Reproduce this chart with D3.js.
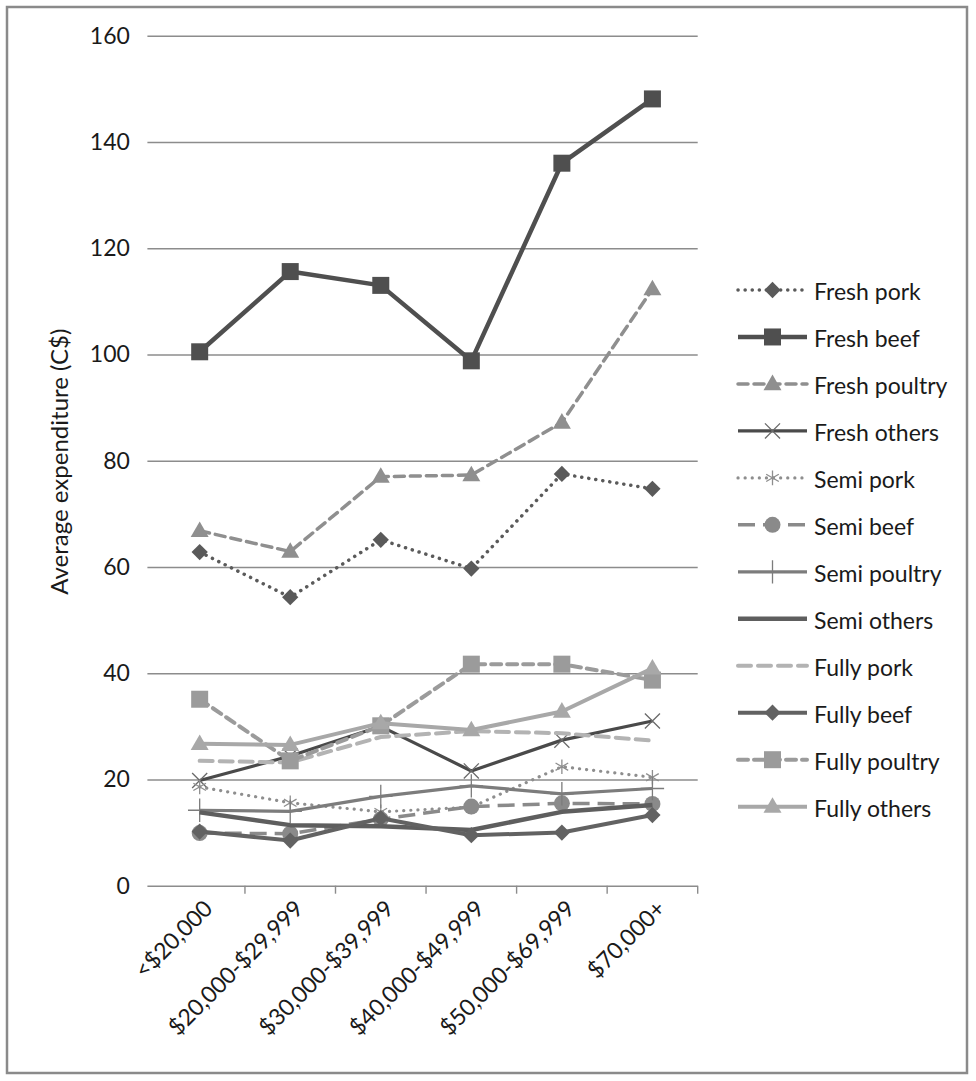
<!DOCTYPE html>
<html>
<head>
<meta charset="utf-8">
<script src="https://cdn.jsdelivr.net/npm/d3@7"></script>
<style>
  html, body { margin: 0; padding: 0; background: #fff; }
  svg text { font-family: Lato, "Open Sans", sans-serif; fill: #1a1a1a; }
</style>
</head>
<body>
<svg id="chart" width="976" height="1081"></svg>
<script>
// Income brackets on the category axis
const categories = ["<$20,000", "$20,000-$29,999", "$30,000-$39,999", "$40,000-$49,999", "$50,000-$69,999", "$70,000+"];
const yTicks = [0, 20, 40, 60, 80, 100, 120, 140, 160];

// Average expenditure (C$) per bracket
const freshPork    = [62.8, 54.3, 65.1, 59.7, 77.5, 74.7];
const freshBeef    = [100.5, 115.6, 113.0, 98.8, 136.0, 148.1];
const freshPoultry = [66.8, 62.9, 77.0, 77.3, 87.2, 112.3];
const freshOthers  = [19.8, 24.4, 30.0, 21.6, 27.4, 31.0];
const semiPork     = [18.6, 15.6, 13.9, 14.8, 22.4, 20.4];
const semiBeef     = [9.9, 9.8, 12.5, 14.9, 15.5, 15.4];
const semiPoultry  = [14.2, 14.0, 16.8, 18.8, 17.3, 18.3];
const semiOthers   = [13.8, 11.4, 11.2, 10.5, 13.9, 15.2];
const fullyPork    = [23.5, 23.2, 28.0, 29.1, 28.7, 27.3];
const fullyBeef    = [10.2, 8.5, 12.7, 9.5, 10.0, 13.3];
const fullyPoultry = [35.1, 23.5, 30.1, 41.7, 41.7, 38.7];
const fullyOthers  = [26.7, 26.5, 30.6, 29.3, 32.8, 40.9];

const seriesNames = ["Fresh pork", "Fresh beef", "Fresh poultry", "Fresh others",
                     "Semi pork", "Semi beef", "Semi poultry", "Semi others",
                     "Fully pork", "Fully beef", "Fully poultry", "Fully others"];
const seriesValues = [freshPork, freshBeef, freshPoultry, freshOthers,
                      semiPork, semiBeef, semiPoultry, semiOthers,
                      fullyPork, fullyBeef, fullyPoultry, fullyOthers];

// Line and marker styling per series
const DOT = "0.1 7", DASH = "10 6", LDASH = "13 7", LONG = "17 8";
const styles = {
  "Fresh pork":    { color: "#5a5a5a", width: 3.5, dash: DOT,  cap: "round", marker: "diamond",  mcolor: "#5a5a5a" },
  "Fresh beef":    { color: "#4f4f4f", width: 4.5, dash: null, cap: "butt",  marker: "square",   mcolor: "#4f4f4f" },
  "Fresh poultry": { color: "#8f8f8f", width: 3.5, dash: DASH, cap: "round", marker: "triangle", mcolor: "#8f8f8f" },
  "Fresh others":  { color: "#4a4a4a", width: 3.2, dash: null, cap: "butt",  marker: "times",    mcolor: "#6a6a6a" },
  "Semi pork":     { color: "#8e8e8e", width: 3.2, dash: DOT,  cap: "round", marker: "asterisk", mcolor: "#8e8e8e" },
  "Semi beef":     { color: "#8a8a8a", width: 3.5, dash: LONG, cap: "butt",  marker: "circle",   mcolor: "#8a8a8a" },
  "Semi poultry":  { color: "#7c7c7c", width: 3.2, dash: null, cap: "butt",  marker: "plus",     mcolor: "#7c7c7c" },
  "Semi others":   { color: "#5e5e5e", width: 4.5, dash: null, cap: "butt",  marker: null,       mcolor: null },
  "Fully pork":    { color: "#b3b3b3", width: 4,   dash: LDASH, cap: "round", marker: null,      mcolor: null },
  "Fully beef":    { color: "#626262", width: 4,   dash: null, cap: "butt",  marker: "diamond",  mcolor: "#626262" },
  "Fully poultry": { color: "#9b9b9b", width: 4,   dash: DASH, cap: "round", marker: "square",   mcolor: "#9b9b9b" },
  "Fully others":  { color: "#a8a8a8", width: 4,   dash: null, cap: "butt",  marker: "triangle", mcolor: "#a8a8a8" }
};

const svg = d3.select("#chart");
const W = 976, H = 1081;

// outer chart border
svg.append("rect").attr("x", 7).attr("y", 7).attr("width", W - 16).attr("height", H - 15)
  .attr("fill", "#fff").attr("stroke", "#8a8a8a").attr("stroke-width", 2.5);

const plot = { left: 154.4, right: 697.7, top: 35.7, bottom: 885.7 };
const FONT = 23;

const x = d3.scaleBand().domain(categories).range([plot.left, plot.right]).paddingInner(0).paddingOuter(0);
const cx = c => x(c) + x.bandwidth() / 2;
const y = d3.scaleLinear().domain([0, 160]).range([plot.bottom, plot.top]);

// horizontal gridlines + value axis labels
const yAxis = d3.axisLeft(y).tickValues(yTicks).tickSize(7).tickPadding(17.5).tickFormat(d3.format("d"));
const gy = svg.append("g").attr("transform", `translate(${plot.left},0)`).call(yAxis);
gy.select(".domain").remove();
gy.selectAll(".tick line").attr("stroke", "#8c8c8c").attr("stroke-width", 1.4)
  .attr("x2", plot.right - plot.left).attr("x1", -7);
gy.selectAll(".tick text").attr("font-size", FONT).attr("fill", "#1a1a1a")
  .style("font-family", "Lato, 'Open Sans', sans-serif");

// category axis tick marks at bracket boundaries
const gx = svg.append("g");
gx.selectAll("line.tk").data(categories).join("line").attr("class", "tk")
  .attr("x1", d => x(d) + x.bandwidth()).attr("x2", d => x(d) + x.bandwidth())
  .attr("y1", plot.bottom).attr("y2", plot.bottom + 8)
  .attr("stroke", "#8c8c8c").attr("stroke-width", 1.4);

// rotated bracket labels
gx.selectAll("text.cat").data(categories).join("text").attr("class", "cat")
  .attr("transform", d => `translate(${cx(d) + 8},${plot.bottom + 18}) rotate(-45)`)
  .attr("text-anchor", "end").attr("dominant-baseline", "central")
  .attr("font-size", FONT).text(d => d);

// value axis title
svg.append("text")
  .attr("transform", `translate(58,${(plot.top + plot.bottom) / 2 + 1}) rotate(-90)`)
  .attr("text-anchor", "middle").attr("dominant-baseline", "central")
  .attr("font-size", 24).text("Average expenditure (C$)");

// marker drawing
function drawMarker(g, kind, fill, px, py) {
  if (!kind) return;
  const stroke = fill;
  if (kind === "square") {
    g.append("path").attr("d", d3.symbol(d3.symbolSquare, 17 * 17)())
      .attr("transform", `translate(${px},${py})`).attr("fill", fill);
  } else if (kind === "diamond") {
    g.append("path").attr("d", d3.symbol(d3.symbolSquare, 11.5 * 11.5)())
      .attr("transform", `translate(${px},${py}) rotate(45)`).attr("fill", fill);
  } else if (kind === "triangle") {
    g.append("path").attr("d", d3.symbol(d3.symbolTriangle, 140)())
      .attr("transform", `translate(${px},${py + 1})`).attr("fill", fill);
  } else if (kind === "circle") {
    g.append("circle").attr("cx", px).attr("cy", py).attr("r", 8).attr("fill", fill);
  } else {
    const sym = kind === "times" ? d3.symbolTimes : kind === "plus" ? d3.symbolPlus : d3.symbolAsterisk;
    g.append("path").attr("d", d3.symbol(sym, kind === "plus" ? 180 : 150)())
      .attr("transform", `translate(${px},${py})`)
      .attr("fill", "none").attr("stroke", stroke).attr("stroke-width", 1.3);
  }
}

// series lines
const line = d3.line().x((d, i) => cx(categories[i])).y(d => y(d));
const gs = svg.append("g");
seriesNames.forEach((name, si) => {
  const st = styles[name];
  const g = gs.append("g");
  g.append("path").datum(seriesValues[si]).attr("d", line)
    .attr("fill", "none").attr("stroke", st.color).attr("stroke-width", st.width)
    .attr("stroke-dasharray", st.dash).attr("stroke-linecap", st.cap)
    .attr("stroke-linejoin", "round");
  seriesValues[si].forEach((v, i) => drawMarker(g, st.marker, st.mcolor, cx(categories[i]), y(v)));
});

// legend
const lg = svg.append("g");
seriesNames.forEach((name, i) => {
  const st = styles[name];
  const ly = 290 + 46.97 * i;
  const g = lg.append("g");
  g.append("line").attr("x1", 738).attr("x2", 807).attr("y1", ly).attr("y2", ly)
    .attr("stroke", st.color).attr("stroke-width", st.width)
    .attr("stroke-dasharray", st.dash).attr("stroke-linecap", st.cap);
  drawMarker(g, st.marker, st.mcolor, 772.5, ly);
  g.append("text").attr("x", 814).attr("y", ly + 1).attr("dominant-baseline", "central")
    .attr("font-size", FONT).text(name);
});
</script>
</body>
</html>
